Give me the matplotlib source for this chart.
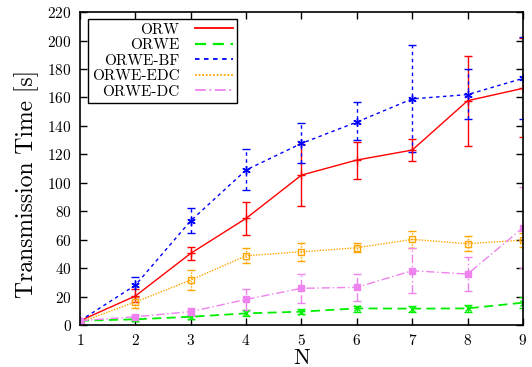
import matplotlib
matplotlib.use("Agg")
import matplotlib.pyplot as plt
import numpy as np

N = [1, 2, 3, 4, 5, 6, 7, 8, 9]

orw = [3, 20.4, 50.4, 75, 105.4, 116, 123, 157.7, 166.4]
orw_lo = [2.5, 16.4, 45.7, 63.5, 84, 103, 115.5, 126, 132]
orw_hi = [3.5, 25, 55, 86.5, 127, 128.8, 130.5, 189, 202]

orwe = [3, 4, 5.8, 8.2, 9.4, 11.7, 11.5, 11.7, 15.7]
orwe_lo = [2.5, 3, 4.5, 6, 7.5, 9.5, 9.5, 9.5, 12]
orwe_hi = [3.5, 5, 7, 10.5, 11.5, 13.5, 13.5, 14, 20]

bf = [3, 28, 73.3, 109, 127.7, 142.7, 159, 162, 173.4]
bf_lo = [2.5, 20, 65, 95, 114, 130, 121.8, 145, 145]
bf_hi = [3.5, 33.5, 82, 123.7, 141.8, 156.5, 197, 179.7, 202.6]

edc = [2, 16.2, 31.6, 48.7, 51.5, 54.3, 60.2, 57.2, 59.7]
edc_lo = [1.5, 12.2, 24.6, 43.8, 45, 51, 54, 52, 55]
edc_hi = [2.5, 20, 38.7, 53.9, 58, 57.8, 66, 62.6, 64.4]

dc = [3, 5.8, 9.4, 18, 25.8, 26.5, 38.2, 35.8, 68.4]
dc_lo = [2.5, 4.5, 6.5, 10.5, 15.2, 17, 22.7, 23.9, 39.8]
dc_hi = [3.5, 7, 12.3, 25, 35.8, 35.6, 54, 48, 97.2]

plt.rcParams['font.family'] = ['cmr10', 'DejaVu Serif']
plt.rcParams['axes.formatter.use_mathtext'] = True

fig = plt.figure(figsize=(5.32, 3.67), dpi=100)
ax = fig.add_axes([0.1504, 0.1144, 0.8326, 0.8526])

series = [
    ("ORW", orw, orw_lo, orw_hi, "#ff0000", "-", "+", 6, 1.0),
    ("ORWE", orwe, orwe_lo, orwe_hi, "#00ee00", (0, (5, 3)), "x", 4, 1.3),
    ("ORWE-BF", bf, bf_lo, bf_hi, "#0000ff", (0, (2.5, 2.5)), (6, 2, 0), 6, 1.0),
    ("ORWE-EDC", edc, edc_lo, edc_hi, "#ffa500", (0, (1, 1)), "s", 5, 1.0),
    ("ORWE-DC", dc, dc_lo, dc_hi, "#ee82ee", (0, (6, 2, 1, 2)), "s", 5, 1.0),
]

handles = []
for name, y, lo, hi, col, ls, mk, ms, lw in series:
    y = np.array(y)
    yerr = [y - np.array(lo), np.array(hi) - y]
    filled = not (name == "ORWE-EDC")
    eb = ax.errorbar(N, y, yerr=yerr, color=col, linestyle=ls, lw=lw,
                     marker=mk, ms=ms, mfc=col if filled else "none",
                     mec=col, mew=1.0, capsize=3, elinewidth=1.0, capthick=1.0)
    for bar in eb[2]:
        bar.set_linestyle(ls)
    h, = ax.plot([], [], color=col, linestyle=ls, lw=lw + 0.3, label=name)
    handles.append(h)

ax.set_xlim(1, 9)
ax.set_ylim(0, 220)
ax.set_xticks(N)
ax.set_yticks(np.arange(0, 221, 20))
ax.tick_params(direction="in", length=5, width=1, top=True, right=True,
               labelsize=11, pad=6)
for s in ax.spines.values():
    s.set_linewidth(1.2)

ax.set_xlabel("N", fontsize=16, labelpad=0)
ax.set_ylabel("Transmission Time [s]", fontsize=17, labelpad=6)
ax.yaxis.label.set_y(0.45)

leg = ax.legend(handles=handles, loc="upper left", bbox_to_anchor=(0.018, 0.978),
                borderaxespad=0, markerfirst=False, fontsize=11, handlelength=2.5,
                fancybox=False, framealpha=1, edgecolor="black",
                borderpad=0.25, labelspacing=0.12, handletextpad=1.0)
leg.get_frame().set_linewidth(1.0)

fig.savefig("out.png", dpi=100)
